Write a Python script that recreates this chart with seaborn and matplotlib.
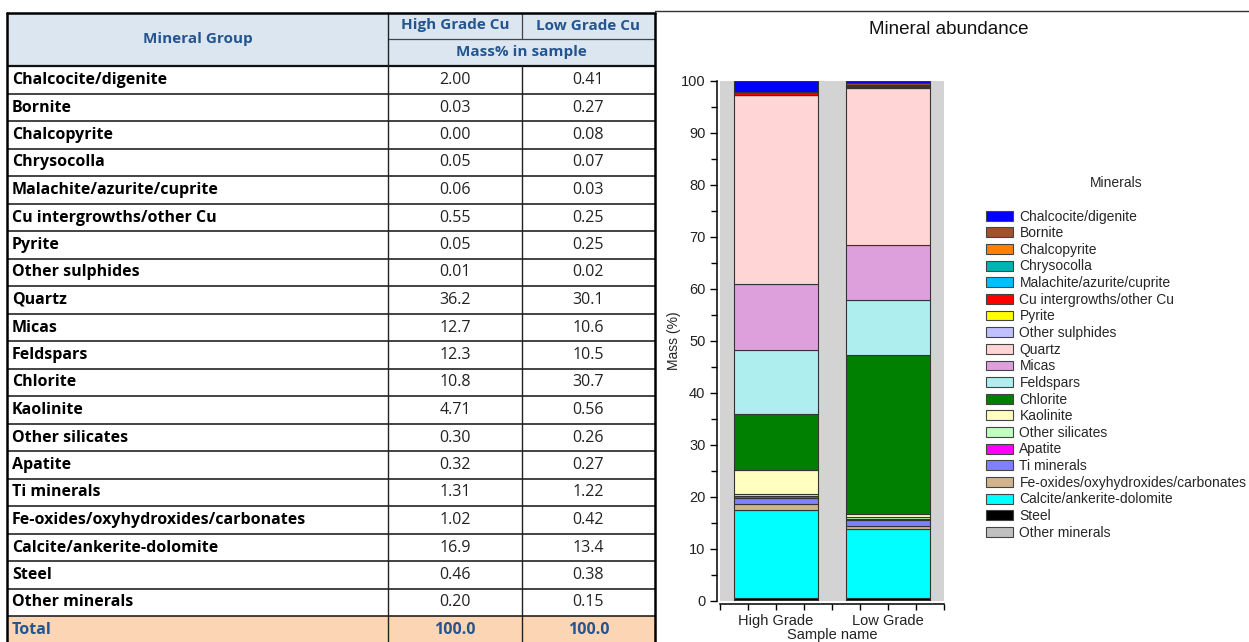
import numpy as np
import pandas as pd
import matplotlib
matplotlib.use("Agg")
import matplotlib.pyplot as plt
from matplotlib.patches import Rectangle, Patch
from matplotlib.ticker import MultipleLocator, FixedLocator
import seaborn as sns

# ---------------- data ----------------
minerals = ["Chalcocite/digenite", "Bornite", "Chalcopyrite", "Chrysocolla",
            "Malachite/azurite/cuprite", "Cu intergrowths/other Cu", "Pyrite",
            "Other sulphides", "Quartz", "Micas", "Feldspars", "Chlorite",
            "Kaolinite", "Other silicates", "Apatite", "Ti minerals",
            "Fe-oxides/oxyhydroxides/carbonates", "Calcite/ankerite-dolomite",
            "Steel", "Other minerals"]
high_grade = [2.00, 0.03, 0.00, 0.05, 0.06, 0.55, 0.05, 0.01, 36.2, 12.7,
              12.3, 10.8, 4.71, 0.30, 0.32, 1.31, 1.02, 16.9, 0.46, 0.20]
low_grade = [0.41, 0.27, 0.08, 0.07, 0.03, 0.25, 0.25, 0.02, 30.1, 10.6,
             10.5, 30.7, 0.56, 0.26, 0.27, 1.22, 0.42, 13.4, 0.38, 0.15]
totals = [100.0, 100.0]
samples = ["High Grade", "Low Grade"]
table_cols = ["High Grade Cu", "Low Grade Cu"]
colors = ["#0000ff", "#a0522d", "#ff8000", "#00b4b4", "#00bfff", "#ff0000",
          "#ffff00", "#c0c0ff", "#ffd5d5", "#dda0dd", "#afeeee", "#008000",
          "#ffffc0", "#c0ffc0", "#ff00ff", "#8080ff", "#d2b48c", "#00ffff",
          "#000000", "#c0c0c0"]

sns.set_theme(style="ticks")
plt.rcParams["font.family"] = ["Liberation Sans", "DejaVu Sans"]

W, H = 1249, 642
fig = plt.figure(figsize=(W / 100, H / 100), dpi=100)

# ---------------- table (pixel coordinates) ----------------
tab = fig.add_axes([0, 0, 1, 1])
tab.set_xlim(0, W)
tab.set_ylim(H, 0)
tab.axis("off")

x0, x1, x2, x3 = 7, 388, 522, 655
ytop, yh1, yh2 = 12.5, 38.5, 66.25
rh = 27.5
nrows = len(minerals)
ytot = yh2 + rh * nrows
ybot = ytot + rh
hdr_blue = "#24558f"
tfont = ["Open Sans", "DejaVu Sans"]
fs = 11.5
fsh = 11

tab.add_patch(Rectangle((x0, ytop), x3 - x0, yh2 - ytop, facecolor="#dce6f1", edgecolor="none"))
tab.add_patch(Rectangle((x0, ytot), x3 - x0, ybot - ytot, facecolor="#fcd5b4", edgecolor="none"))

for i in range(nrows + 1):
    y = yh2 + rh * i
    tab.plot([x0, x3], [y, y], color="#111111", lw=1.1 if i else 1.6, solid_capstyle="butt")
tab.plot([x1, x3], [yh1, yh1], color="#444444", lw=0.9)
tab.plot([x1, x1], [ytop, ybot], color="#222222", lw=1.0)
tab.plot([x2, x2], [ytop, yh1], color="#444444", lw=0.9)
tab.plot([x2, x2], [yh2, ybot], color="#222222", lw=1.0)
tab.plot([x0, x0], [ytop, ybot], color="#000000", lw=1.8)
tab.plot([x3, x3], [ytop, ybot], color="#000000", lw=1.8)
tab.plot([x0, x3], [ytop, ytop], color="#000000", lw=1.8)
tab.plot([x3, W], [11, 11], color="#333333", lw=1.0)

tab.text((x0 + x1) / 2, (ytop + yh2) / 2, "Mineral Group", ha="center", va="center",
         fontsize=fsh, fontweight="bold", color=hdr_blue, family=tfont)
tab.text((x1 + x2) / 2, (ytop + yh1) / 2, table_cols[0], ha="center", va="center",
         fontsize=fsh, fontweight="bold", color=hdr_blue, family=tfont)
tab.text((x2 + x3) / 2, (ytop + yh1) / 2, table_cols[1], ha="center", va="center",
         fontsize=fsh, fontweight="bold", color=hdr_blue, family=tfont)
tab.text((x1 + x3) / 2, (yh1 + yh2) / 2, "Mass% in sample", ha="center", va="center",
         fontsize=fsh, fontweight="bold", color=hdr_blue, family=tfont)


def fmt(v):
    return f"{v:.1f}" if v >= 10 else f"{v:.2f}"


for i, (m, h, l) in enumerate(zip(minerals, high_grade, low_grade)):
    yc = yh2 + rh * (i + 0.5)
    tab.text(x0 + 5, yc, m, ha="left", va="center", fontsize=fs,
             fontweight="bold", color="#000000", family=tfont)
    tab.text((x1 + x2) / 2, yc, fmt(h), ha="center", va="center", fontsize=fs,
             color="#222222", family=tfont)
    tab.text((x2 + x3) / 2, yc, fmt(l), ha="center", va="center", fontsize=fs,
             color="#222222", family=tfont)

yc = ytot + rh / 2
tab.text(x0 + 5, yc, "Total", ha="left", va="center", fontsize=fs,
         fontweight="bold", color=hdr_blue, family=tfont)
tab.text((x1 + x2) / 2, yc, f"{totals[0]:.1f}", ha="center", va="center", fontsize=fs,
         fontweight="bold", color=hdr_blue, family=tfont)
tab.text((x2 + x3) / 2, yc, f"{totals[1]:.1f}", ha="center", va="center", fontsize=fs,
         fontweight="bold", color=hdr_blue, family=tfont)

# ---------------- stacked bar chart ----------------
ax = fig.add_axes([720 / W, (H - 601) / H, 224 / W, 520 / H])
ax.set_facecolor("#d3d3d3")

bottoms = np.zeros(len(samples))
for name, c, h, l in reversed(list(zip(minerals, colors, high_grade, low_grade))):
    vals = np.array([h, l])
    sns.barplot(x=samples, y=vals, bottom=bottoms, color=c, saturation=1,
                width=0.75, edgecolor="#333333", linewidth=0.8, errorbar=None, ax=ax)
    bottoms = bottoms + vals

ax.set_xlim(-0.5, 1.5)
ax.set_ylim(0, 100)
ax.yaxis.set_major_locator(MultipleLocator(10))
ax.yaxis.set_minor_locator(MultipleLocator(5))
ax.xaxis.set_minor_locator(FixedLocator([-0.5, -0.25, 0.25, 0.5, 0.75, 1.25, 1.5]))
ax.tick_params(axis="both", which="both", direction="out", color="#000000",
               labelsize=10.5, labelcolor="#222222")
ax.tick_params(axis="y", which="major", length=5, width=1)
ax.tick_params(axis="y", which="minor", length=4, width=1)
ax.tick_params(axis="x", which="both", length=4, width=1)
for s in ["top", "right"]:
    ax.spines[s].set_visible(False)
for s in ["left", "bottom"]:
    ax.spines[s].set_color("#000000")
    ax.spines[s].set_linewidth(1.1)
    ax.spines[s].set_position(("outward", 2))
ax.set_xlabel("Sample name", fontsize=10.5, color="#222222", labelpad=0)
ax.set_ylabel("Mass (%)", fontsize=10, color="#222222", labelpad=0)

fig.text(949 / W, 1 - 29 / H, "Mineral abundance", ha="center", va="center",
         fontsize=13.5, color="#111111")

handles = [Patch(facecolor=c, edgecolor="#444444", linewidth=0.8, label=m)
           for m, c in zip(minerals, colors)]
leg = fig.legend(handles=handles, loc="upper left", bbox_to_anchor=(975 / W, 1 - 165 / H),
                 frameon=False, fontsize=10, title="Minerals", title_fontsize=10,
                 handlelength=1.9, handleheight=0.72, handletextpad=0.5,
                 labelspacing=0.19, borderpad=0.3)
leg._legend_box.sep = 14

fig.savefig("out.png", dpi=100)
